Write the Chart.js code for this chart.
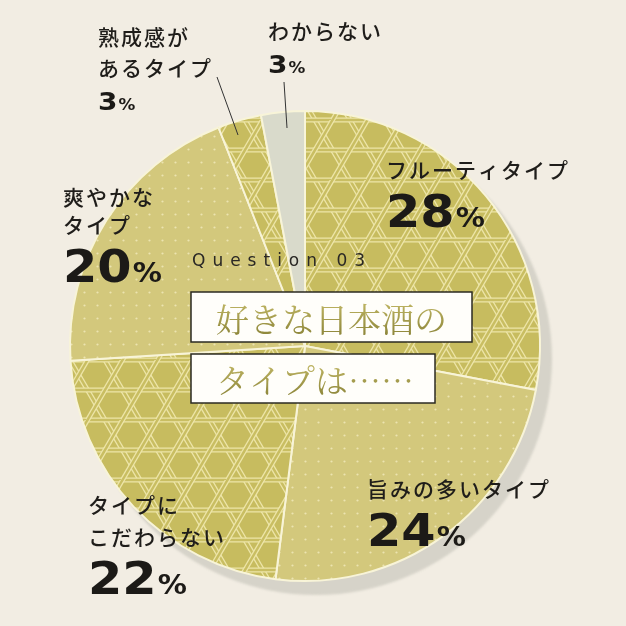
<!DOCTYPE html>
<html>
<head>
<meta charset="utf-8">
<script src="https://cdn.jsdelivr.net/npm/chart.js@4.4.1/dist/chart.umd.min.js"></script>
<style>
  html, body { margin: 0; padding: 0; background: #f2ede3; }
  canvas { display: block; }
</style>
</head>
<body>
<canvas id="sakeChart" width="626" height="626"></canvas>
<script>
// survey answers, clockwise from 12 o'clock
const categories = ['フルーティタイプ', '旨みの多いタイプ', 'タイプにこだわらない', '爽やかなタイプ', '熟成感があるタイプ', 'わからない'];
const shares = [28, 24, 22, 20, 3, 3];
const questionNo = 'Question 03';
const titleLines = ['好きな日本酒の', 'タイプは……'];

// label placement (text break index, line gap, percent size)
const labelLayout = [
  { x: 386, y: 170, breaks: [], gap: 32, big: true },
  { x: 367, y: 489, breaks: [], gap: 32, big: true },
  { x: 88, y: 505, breaks: [4], gap: 32, big: true },
  { x: 63, y: 197, breaks: [4], gap: 28, big: true },
  { x: 98, y: 37, breaks: [4], gap: 31, big: false },
  { x: 268, y: 31, breaks: [], gap: 31, big: false }
];
const leaders = [
  [217, 77, 238, 135],
  [284, 82, 287, 128]
];

// kagome weave tile
function makeWeave() {
  const h = 30, w = 35;
  const c = document.createElement('canvas');
  c.width = w; c.height = 2 * h;
  const g = c.getContext('2d');
  g.fillStyle = '#c7bc5f';
  g.fillRect(0, 0, w, 2 * h);
  const band = (segs) => {
    g.lineCap = 'butt';
    g.strokeStyle = '#ede5a8'; g.lineWidth = 5;
    segs.forEach(s => { g.beginPath(); g.moveTo(s[0], s[1]); g.lineTo(s[2], s[3]); g.stroke(); });
    g.strokeStyle = '#c9be62'; g.lineWidth = 2.4;
    segs.forEach(s => { g.beginPath(); g.moveTo(s[0], s[1]); g.lineTo(s[2], s[3]); g.stroke(); });
  };
  const hor = [], up = [], down = [];
  for (let k = 0; k <= 2; k++) hor.push([-5, k * h, w + 5, k * h]);
  for (let i = -2; i <= 2; i++) {
    up.push([i * w, 0, i * w + w, 2 * h]);
    up.push([i * w - w, -2 * h, i * w, 0]);
    down.push([i * w + w / 2, 0, i * w - w / 2, 2 * h]);
    down.push([i * w + w / 2 + w, -2 * h, i * w + w / 2, 0]);
  }
  band(up);
  band(hor);
  band(down);
  return g.createPattern(c, 'repeat');
}

// small dot tile
function makeDots() {
  const c = document.createElement('canvas');
  c.width = 13; c.height = 13;
  const g = c.getContext('2d');
  g.fillStyle = '#d3c87c';
  g.fillRect(0, 0, 13, 13);
  g.fillStyle = '#ece4b0';
  g.beginPath(); g.arc(6.5, 6.5, 1.1, 0, Math.PI * 2); g.fill();
  return g.createPattern(c, 'repeat');
}

const weave = makeWeave();
const dots = makeDots();
const sliceFills = [weave, dots, weave, dots, weave, '#d9dacb'];

const shadowPlugin = {
  id: 'pieShadow',
  beforeDraw(chart) {
    const ctx = chart.ctx;
    ctx.save();
    ctx.fillStyle = '#f2ede3';
    ctx.fillRect(0, 0, chart.width, chart.height);
    ctx.restore();
  },
  beforeDatasetsDraw(chart) {
    const arc = chart.getDatasetMeta(0).data[0];
    if (!arc) return;
    const ctx = chart.ctx;
    ctx.save();
    ctx.filter = 'blur(1px)';
    ctx.fillStyle = '#d6d3c9';
    ctx.beginPath();
    ctx.arc(arc.x + 11, arc.y + 13, arc.outerRadius + 1, 0, Math.PI * 2);
    ctx.fill();
    ctx.restore();
  }
};

function drawPercent(ctx, text, x, yMid, big) {
  const size = big ? 44 : 25;
  const base = yMid + size * 0.365;
  ctx.save();
  ctx.fillStyle = '#1c1a17';
  ctx.textBaseline = 'alphabetic';
  ctx.font = 'bold ' + size + 'px "DejaVu Sans"';
  ctx.translate(x, base);
  ctx.scale(1.12, 1);
  ctx.fillText(text, 0, 0);
  const wDigits = ctx.measureText(text).width;
  ctx.font = 'bold ' + Math.round(size * 0.6) + 'px "DejaVu Sans"';
  ctx.fillText('%', wDigits + 1, 0);
  ctx.restore();
}

const labelPlugin = {
  id: 'sakeLabels',
  afterDraw(chart) {
    const ctx = chart.ctx;
    ctx.save();
    // leader lines
    ctx.strokeStyle = '#333';
    ctx.lineWidth = 1;
    leaders.forEach(l => { ctx.beginPath(); ctx.moveTo(l[0], l[1]); ctx.lineTo(l[2], l[3]); ctx.stroke(); });

    // category labels and shares
    categories.forEach((name, i) => {
      const lay = labelLayout[i];
      const lines = [];
      let start = 0;
      lay.breaks.forEach(b => { lines.push(name.slice(start, b)); start = b; });
      lines.push(name.slice(start));
      ctx.fillStyle = '#1f1d1a';
      ctx.font = '500 21px "Noto Sans CJK JP"';
      ctx.letterSpacing = '2px';
      ctx.textBaseline = 'middle';
      ctx.textAlign = 'left';
      lines.forEach((t, j) => ctx.fillText(t, lay.x, lay.y + j * lay.gap));
      ctx.letterSpacing = '0px';
      const lastY = lay.y + (lines.length - 1) * lay.gap;
      drawPercent(ctx, String(shares[i]), lay.x, lastY + (lay.big ? 41 : 33), lay.big);
    });

    // question heading
    ctx.fillStyle = '#2a2825';
    ctx.font = '17px "DejaVu Sans"';
    ctx.letterSpacing = '7px';
    ctx.textBaseline = 'middle';
    ctx.fillText(questionNo, 192, 262);
    ctx.letterSpacing = '0px';

    // title boxes
    const boxes = [[191, 292, 281, 50], [191, 354, 244, 49]];
    boxes.forEach((b, i) => {
      ctx.fillStyle = '#fffefa';
      ctx.fillRect(b[0], b[1], b[2], b[3]);
      ctx.strokeStyle = '#2b2a22';
      ctx.lineWidth = 1.5;
      ctx.strokeRect(b[0], b[1], b[2], b[3]);
      const grad = ctx.createLinearGradient(0, b[1] + 8, 0, b[1] + b[3] - 8);
      grad.addColorStop(0, '#c2b866');
      grad.addColorStop(1, '#8f883c');
      ctx.fillStyle = grad;
      ctx.font = '400 33px "Noto Serif CJK JP", "Noto Sans CJK JP", serif';
      ctx.textBaseline = 'middle';
      ctx.fillText(titleLines[i], b[0] + 25, b[1] + b[3] / 2 + 2);
    });
    ctx.restore();
  }
};

new Chart(document.getElementById('sakeChart').getContext('2d'), {
  type: 'pie',
  data: {
    labels: categories,
    datasets: [{
      data: shares,
      backgroundColor: sliceFills,
      borderColor: '#f8f4d8',
      borderWidth: 2
    }]
  },
  options: {
    responsive: false,
    devicePixelRatio: 1,
    animation: false,
    layout: { padding: { left: 69, right: 85, top: 110, bottom: 44 } },
    plugins: {
      legend: { display: false },
      tooltip: { enabled: false }
    }
  },
  plugins: [shadowPlugin, labelPlugin]
});
</script>
</body>
</html>
